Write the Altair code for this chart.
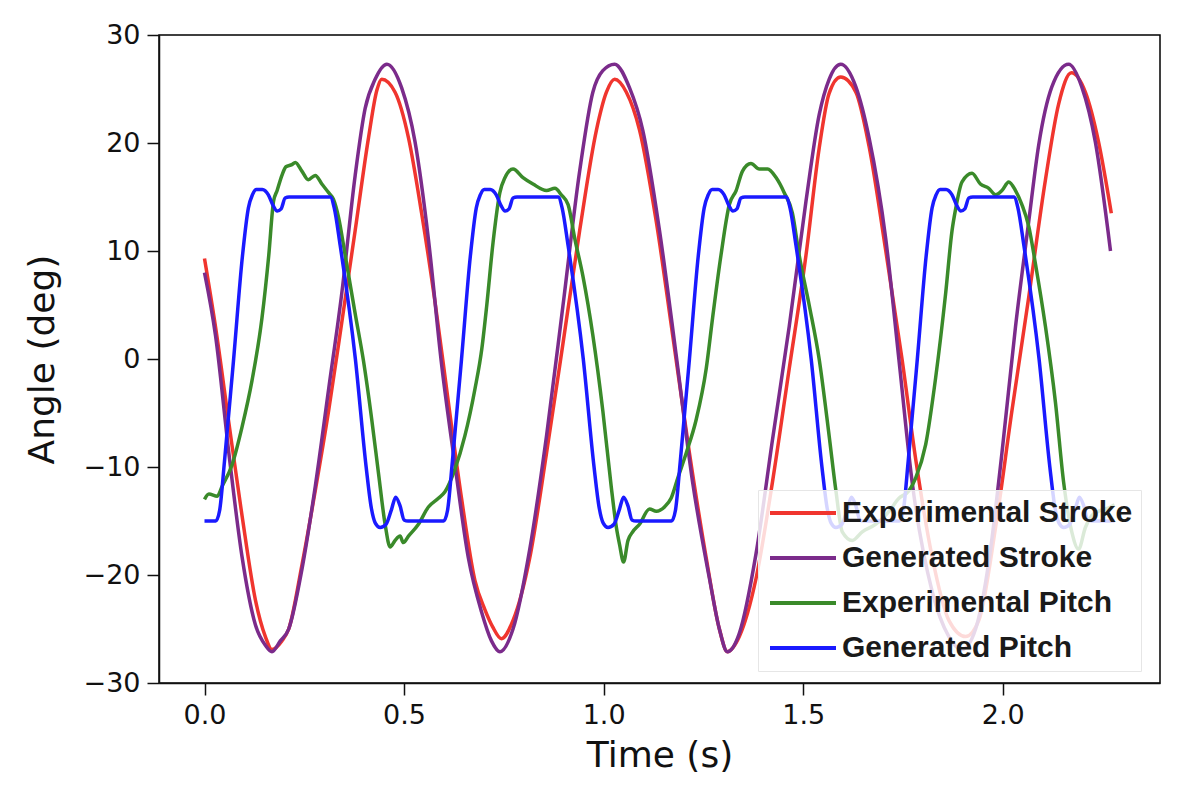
import altair as alt
import pandas as pd

SERIES = ["Experimental Stroke", "Generated Stroke", "Experimental Pitch", "Generated Pitch"]
COLORS = ["#f0352e", "#7b2b8b", "#3a8a2a", "#1a1aff"]

red_t = [0, 0.0275, 0.061, 0.094, 0.1275, 0.1525, 0.169, 0.194, 0.211, 0.244, 0.2775, 0.311, 0.344, 0.3775,
         0.411, 0.432, 0.444, 0.4775, 0.511, 0.544, 0.5775, 0.611, 0.644, 0.6775, 0.7025, 0.722, 0.744, 0.773,
         0.815, 0.857, 0.898, 0.94, 0.982, 1.007, 1.0275, 1.057, 1.09, 1.132, 1.173, 1.215, 1.257, 1.29, 1.31,
         1.34, 1.382, 1.423, 1.465, 1.507, 1.54, 1.565, 1.594, 1.632, 1.665, 1.707, 1.748, 1.782, 1.823, 1.865,
         1.907, 1.94, 1.982, 2.023, 2.065, 2.107, 2.14, 2.172, 2.207, 2.24, 2.272]
red_v = [9.3, 3.0, -5.9, -14.5, -22.3, -25.7, -26.9, -26.1, -25.0, -19.1, -12.2, -4.8, 3.4, 11.9,
         20.5, 24.9, 25.9, 24.7, 20.5, 13.5, 5.3, -4.0, -12.9, -20.5, -23.2, -24.8, -25.9, -24.2,
         -18.4, -8.7, 1.4, 11.9, 21.2, 24.7, 25.9, 24.7, 21.2, 12.7, 2.2, -8.7, -18.4, -25.0, -27.1,
         -25.7, -20.3, -11.4, -0.9, 9.6, 19.5, 24.6, 26.1, 24.7, 19.7, 10.0, -0.1, -9.3, -18.3, -24.2,
         -25.7, -24.2, -15.6, -4.8, 5.7, 16.6, 23.6, 26.5, 24.7, 20.1, 13.5]

purple_t = [0, 0.0275, 0.061, 0.094, 0.1275, 0.1525, 0.169, 0.19, 0.211, 0.244, 0.2775, 0.311, 0.344, 0.3775,
            0.4025, 0.4275, 0.457, 0.494, 0.5275, 0.561, 0.594, 0.6275, 0.661, 0.694, 0.719, 0.74, 0.773,
            0.815, 0.857, 0.898, 0.94, 0.973, 0.998, 1.0275, 1.065, 1.098, 1.14, 1.182, 1.223, 1.265, 1.29,
            1.31, 1.34, 1.382, 1.423, 1.465, 1.507, 1.54, 1.565, 1.594, 1.632, 1.665, 1.707, 1.74, 1.773,
            1.823, 1.865, 1.898, 1.932, 1.965, 1.998, 2.032, 2.065, 2.09, 2.123, 2.165, 2.198, 2.232, 2.27]
purple_v = [8.0, 2.2, -8.7, -18.3, -24.6, -26.5, -27.1, -26.1, -25.0, -19.5, -11.8, -2.8, 6.1, 17.0,
            23.2, 25.9, 27.3, 25.1, 20.1, 11.1, -0.5, -9.8, -18.4, -23.4, -26.1, -27.1, -25.0,
            -17.6, -7.1, 4.9, 17.4, 24.7, 26.7, 27.3, 25.1, 21.2, 11.9, 0.3, -11.4, -20.3, -25.0,
            -27.1, -25.4, -18.0, -7.5, 3.0, 14.6, 22.6, 25.9, 27.3, 25.2, 20.5, 11.1, -0.1, -11.4,
            -21.5, -25.7, -26.9, -25.0, -18.8, -8.7, 3.0, 12.7, 19.8, 25.2, 27.3, 25.2, 20.1, 10.0]

green_t = [0, 0.011, 0.032, 0.044, 0.069, 0.094, 0.119, 0.144, 0.161, 0.173, 0.182, 0.194, 0.204, 0.219,
           0.2275, 0.244, 0.26, 0.2775, 0.294, 0.311, 0.323, 0.336, 0.3525, 0.3775, 0.398, 0.419, 0.436,
           0.4525, 0.465, 0.4775, 0.49, 0.498, 0.511, 0.536, 0.561, 0.586, 0.6025, 0.6275, 0.6525, 0.6775,
           0.695, 0.707, 0.723, 0.74, 0.753, 0.773, 0.798, 0.823, 0.857, 0.878, 0.894, 0.911, 0.928, 0.948,
           0.973, 0.998, 1.019, 1.032, 1.04, 1.05, 1.061, 1.073, 1.09, 1.115, 1.132, 1.1525, 1.169, 1.186,
           1.207, 1.232, 1.257, 1.273, 1.294, 1.315, 1.332, 1.348, 1.369, 1.39, 1.411, 1.432, 1.4525, 1.473,
           1.49, 1.515, 1.54, 1.565, 1.582, 1.598, 1.623, 1.648, 1.682, 1.715, 1.74, 1.765, 1.782, 1.807,
           1.832, 1.857, 1.873, 1.882, 1.898, 1.923, 1.944, 1.965, 1.982, 1.998, 2.015, 2.032, 2.048, 2.065,
           2.082, 2.107, 2.132, 2.1525, 2.173, 2.19, 2.207, 2.223, 2.24, 2.27, 2.28]
green_v = [-13.0, -12.5, -12.7, -11.8, -9.8, -6.3, -2.0, 3.8, 9.6, 14.6, 15.6, 17.0, 17.8, 18.0,
           18.2, 17.4, 16.6, 17.0, 16.2, 15.4, 14.8, 13.1, 9.6, 4.2, -0.1, -5.6, -10.6,
           -15.3, -17.4, -16.8, -16.4, -17.0, -16.4, -15.3, -13.7, -12.9, -12.3, -10.2, -7.1, -2.8,
           1.0, 4.9, 10.8, 15.4, 16.8, 17.6, 16.8, 16.2, 15.6, 15.8, 15.2, 14.3, 11.1, 7.7,
           2.2, -4.8, -11.8, -15.6, -17.2, -18.8, -16.8, -16.0, -15.3, -13.9, -14.1, -13.7, -12.9, -11.0,
           -8.7, -5.6, -0.9, 3.8, 9.6, 14.3, 15.6, 17.4, 18.1, 17.6, 17.6, 16.8, 15.4, 13.5,
           9.6, 5.0, 0.0, -7.1, -12.2, -16.0, -16.8, -16.0, -15.3, -14.1, -12.9, -12.2, -11.0, -7.9,
           -1.7, 6.1, 11.9, 13.9, 16.4, 17.2, 16.2, 15.8, 15.2, 15.6, 16.4, 15.6, 14.3, 12.3,
           8.8, 3.0, -4.0, -11.4, -16.0, -17.6, -15.6, -14.5, -14.1, -13.7, -13.5]

blue_t = [0, 0.028, 0.038, 0.050, 0.073, 0.095, 0.110, 0.120, 0.130, 0.145, 0.160, 0.172, 0.182, 0.192, 0.202,
          0.212, 0.315, 0.325, 0.340, 0.378, 0.405, 0.418, 0.428, 0.440, 0.455, 0.468, 0.479, 0.490, 0.500, 0.510,
          0.571, 0.599, 0.609, 0.621, 0.644, 0.666, 0.681, 0.691, 0.701, 0.716, 0.731, 0.743, 0.753, 0.763, 0.773,
          0.783, 0.886, 0.896, 0.911, 0.949, 0.976, 0.989, 0.999, 1.011, 1.026, 1.039, 1.050, 1.061, 1.071, 1.081,
          1.142, 1.170, 1.180, 1.192, 1.215, 1.237, 1.252, 1.262, 1.272, 1.287, 1.302, 1.314, 1.324, 1.334, 1.344,
          1.354, 1.457, 1.467, 1.482, 1.520, 1.547, 1.560, 1.570, 1.582, 1.597, 1.610, 1.621, 1.632, 1.642, 1.652,
          1.713, 1.741, 1.751, 1.763, 1.786, 1.808, 1.823, 1.833, 1.843, 1.858, 1.873, 1.885, 1.895, 1.905, 1.915,
          1.925, 2.028, 2.038, 2.053, 2.091, 2.118, 2.131, 2.141, 2.153, 2.168, 2.181, 2.192, 2.203, 2.213, 2.223,
          2.280]
blue_v = [-15, -15, -14, -9.5, 0, 9.5, 14, 15.2, 15.7, 15.7, 15.2, 14.2, 13.7, 13.9, 14.9,
          15, 15, 14, 10.5, 0, -10, -13.8, -15.2, -15.6, -15.3, -14, -12.8, -13.6, -14.9, -15,
          -15, -15, -14, -9.5, 0, 9.5, 14, 15.2, 15.7, 15.7, 15.2, 14.2, 13.7, 13.9, 14.9,
          15, 15, 14, 10.5, 0, -10, -13.8, -15.2, -15.6, -15.3, -14, -12.8, -13.6, -14.9, -15,
          -15, -15, -14, -9.5, 0, 9.5, 14, 15.2, 15.7, 15.7, 15.2, 14.2, 13.7, 13.9, 14.9,
          15, 15, 14, 10.5, 0, -10, -13.8, -15.2, -15.6, -15.3, -14, -12.8, -13.6, -14.9, -15,
          -15, -15, -14, -9.5, 0, 9.5, 14, 15.2, 15.7, 15.7, 15.2, 14.2, 13.7, 13.9, 14.9,
          15, 15, 14, 10.5, 0, -10, -13.8, -15.2, -15.6, -15.3, -14, -12.8, -13.6, -14.9, -15,
          -15]

x_ticks = [0.0, 0.5, 1.0, 1.5, 2.0]
y_ticks = [-30, -20, -10, 0, 10, 20, 30]

rows = []
for name, ts, vs in zip(SERIES, [red_t, purple_t, green_t, blue_t], [red_v, purple_v, green_v, blue_v]):
    for i, (t, v) in enumerate(zip(ts, vs)):
        rows.append({"series": name, "t": t, "v": v, "i": i})
df = pd.DataFrame(rows)

chart = alt.Chart(df).mark_line(strokeWidth=3.5, interpolate="monotone").encode(
    x=alt.X("t:Q", title="Time (s)",
            scale=alt.Scale(domain=[-0.114, 2.394], nice=False, zero=False),
            axis=alt.Axis(values=x_ticks, format=".1f", grid=False)),
    y=alt.Y("v:Q", title="Angle (deg)",
            scale=alt.Scale(domain=[-30, 30], nice=False),
            axis=alt.Axis(values=y_ticks, grid=False)),
    color=alt.Color("series:N",
                    scale=alt.Scale(domain=SERIES, range=COLORS),
                    legend=alt.Legend(title=None, orient="none", legendX=599, legendY=455,
                                      fillColor="rgba(255,255,255,0.82)", strokeColor="#e6e6e6",
                                      padding=8, symbolType="M-1,0H5", symbolSize=484,
                                      symbolStrokeWidth=4, labelFont="Liberation Sans",
                                      labelFontSize=30, labelFontWeight="bold", labelColor="#1a1a1a",
                                      labelOffset=46, rowPadding=15, labelLimit=0)),
    order="i:Q",
).properties(
    width=1001, height=648,
    autosize=alt.AutoSizeParams(type="none"),
    padding={"left": 151, "top": 27, "right": 16, "bottom": 100},
).configure_view(
    stroke="black", strokeWidth=1.5
).configure_axis(
    labelFont="DejaVu Sans", labelFontSize=27, labelColor="#111111",
    titleFont="DejaVu Sans", titleFontSize=36, titleFontWeight="normal", titleColor="#111111",
    tickSize=12, tickWidth=1.5, tickColor="#111111",
    domainColor="#111111", domainWidth=1.5, labelPadding=7,
).configure_axisX(titlePadding=10).configure_axisY(titlePadding=22)

chart.save("out.html", embed_options={"renderer": "svg", "actions": False})
